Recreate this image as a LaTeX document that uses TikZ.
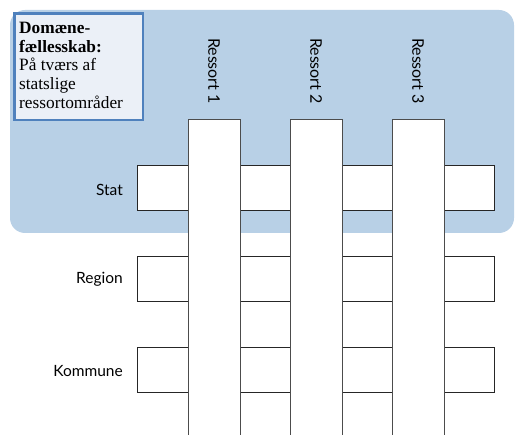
\documentclass[tikz,border=0pt]{standalone}
\usepackage{fontspec}
\setmainfont{Liberation Serif}
\newfontfamily\sansf{Lato}
\definecolor{bgblue}{RGB}{184,208,230}
\definecolor{boxblue}{RGB}{79,129,189}
\definecolor{boxfill}{RGB}{235,240,247}
\begin{document}
\begin{tikzpicture}[x=1pt,y=-1pt,
  bar/.style={draw=black!85,fill=white,line width=0.8pt,minimum width=357pt,minimum height=45pt,inner sep=0pt},
  colline/.style={draw=black!70,line width=0.8pt},
  rowlabel/.style={anchor=east,font=\sansf\fontsize{15.5}{17}\selectfont,inner sep=0pt},
  collabel/.style={rotate=-90,font=\sansf\fontsize{16}{18}\selectfont,inner sep=0pt},
  infobox/.style={draw=boxblue,line width=2.5pt,fill=boxfill,anchor=north west,minimum width=128.5pt,minimum height=106.5pt,inner sep=0pt}
]
\useasboundingbox (0,0) rectangle (515,435);
\fill[bgblue, rounded corners=15pt] (10,10) rectangle (514,233);
% rows
\node[bar] (stat) at (315.5,187.5) {};
\node[bar] (region) at (315.5,279) {};
\node[bar] (kommune) at (315.5,370) {};
% columns
\foreach \x/\n in {188/1,290/2,392/3}{
  \fill[white] (\x,119) rectangle (\x+52,440);
  \draw[colline] (\x,440) -- (\x,119) -- (\x+52,119) -- (\x+52,440);
  \node[collabel] (r\n) at (\x+26,71) {Ressort \n};
}
% row labels
\node[rowlabel] (lstat) at (123,190) {Stat};
\node[rowlabel] (lregion) at (123,279) {Region};
\node[rowlabel] (lkommune) at (123,371) {Kommune};
% info box
\node[infobox] (box) at (13.25,12.25) {};
\node[anchor=north west,align=left,inner sep=0pt,font=\fontsize{17.3}{18.7}\selectfont] (boxtext) at (19,22)
  {\textbf{Domæne-}\\\textbf{fællesskab:}\\På tværs af\\statslige\\ressortområder};
\end{tikzpicture}
\end{document}
